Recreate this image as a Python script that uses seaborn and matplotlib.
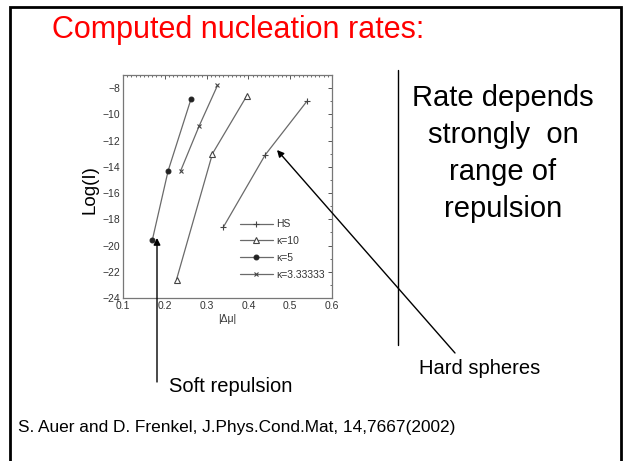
import numpy as np
import pandas as pd
import matplotlib
matplotlib.use("Agg")
import matplotlib.pyplot as plt
import seaborn as sns
from matplotlib.ticker import MultipleLocator

# ---- data ----
series_names = ["HS", "κ=10", "κ=5", "κ=3.33333"]
hs_x = [0.34, 0.44, 0.54]
hs_y = [-18.6, -13.1, -9.0]
k10_x = [0.228, 0.314, 0.396]
k10_y = [-22.6, -13.0, -8.6]
k5_x = [0.170, 0.208, 0.263]
k5_y = [-19.6, -14.3, -8.8]
k33_x = [0.238, 0.282, 0.326]
k33_y = [-14.3, -10.9, -7.8]
x_ticks = [0.1, 0.2, 0.3, 0.4, 0.5, 0.6]
y_ticks = [-24, -22, -20, -18, -16, -14, -12, -10, -8]

sns.set_theme(style="white")
plt.rcParams["font.family"] = ["Liberation Sans", "DejaVu Sans"]
plt.rcParams["axes.unicode_minus"] = True

fig = plt.figure(figsize=(6.23, 4.61), dpi=100)
fig.patch.set_facecolor("white")

# slide frame (bottom edge lies outside the picture)
fig.add_artist(plt.Rectangle((10 / 623, -10 / 461), 611 / 623, (461 + 10 - 7) / 461,
                             transform=fig.transFigure, fill=False,
                             edgecolor="black", linewidth=2))

ax = fig.add_axes([123 / 623, 1 - 298 / 461, 209 / 623, 223 / 461])

df = pd.concat([
    pd.DataFrame({"x": hs_x, "y": hs_y, "series": series_names[0]}),
    pd.DataFrame({"x": k10_x, "y": k10_y, "series": series_names[1]}),
    pd.DataFrame({"x": k5_x, "y": k5_y, "series": series_names[2]}),
    pd.DataFrame({"x": k33_x, "y": k33_y, "series": series_names[3]}),
], ignore_index=True)

markers = {"HS": "+", "κ=10": "^", "κ=5": "o", "κ=3.33333": "x"}
msizes = {"HS": 5, "κ=10": 4.5, "κ=5": 3.5, "κ=3.33333": 3.5}
line_col = "#6a6a6a"
for name in series_names:
    sub = df[df["series"] == name]
    mk = markers[name]
    kw = dict(marker=mk, markersize=msizes[name], color=line_col, linewidth=0.9,
              sort=False, label=name, ax=ax, estimator=None)
    if mk == "^":
        kw.update(markerfacecolor="white", markeredgecolor="#444444", markeredgewidth=0.8)
    elif mk == "o":
        kw.update(markerfacecolor="#222222", markeredgecolor="#222222")
    else:
        kw.update(markeredgecolor="#444444", markeredgewidth=0.8)
    sns.lineplot(data=sub, x="x", y="y", **kw)

ax.set_xlim(0.1, 0.6)
ax.set_ylim(-24, -7)
ax.set_xticks(x_ticks)
ax.set_yticks(y_ticks)
ax.set_xticklabels([f"{v:g}" for v in x_ticks])
ax.set_yticklabels([f"\u2212{abs(v)}" for v in y_ticks])
ax.xaxis.set_minor_locator(MultipleLocator(0.01))
ax.yaxis.set_minor_locator(MultipleLocator(1))
ax.tick_params(axis="both", which="major", direction="in", length=3, width=0.7,
               labelsize=7.5, colors="#555555", labelcolor="#333333",
               top=True, right=True, pad=2)
ax.tick_params(axis="both", which="minor", direction="in", length=1.5, width=0.6,
               colors="#555555", top=True, right=True)
for s in ax.spines.values():
    s.set_color("#777777")
    s.set_linewidth(0.9)
ax.set_xlabel("|\u0394\u03bc|", fontsize=7.5, color="#333333", labelpad=2)
ax.set_ylabel("")
fig.text(90 / 623, 1 - 190 / 461, "Log(I)", rotation=90, fontsize=13.5,
         ha="center", va="center", color="black")

leg = ax.legend(loc="lower right", bbox_to_anchor=(1.0, 0.05), frameon=False,
                fontsize=7.5, handlelength=3.2, handletextpad=0.3,
                labelspacing=0.65, borderaxespad=0.3)
for t in leg.get_texts():
    t.set_color("#333333")

# slide texts
fig.text(52 / 623, 1 - 30 / 461, "Computed nucleation rates:", color="#ff0000",
         fontsize=22, ha="left", va="center")
right_lines = ["Rate depends", "strongly  on", "range of", "repulsion"]
for i, line in enumerate(right_lines):
    fig.text(503 / 623, 1 - (98 + 37 * i) / 461, line, fontsize=21,
             ha="center", va="center", color="black")
fig.text(18 / 623, 1 - 427 / 461,
         "S. Auer and D. Frenkel, J.Phys.Cond.Mat, 14,7667(2002)",
         fontsize=12.4, ha="left", va="center", color="black")
fig.text(480 / 623, 1 - 368 / 461, "Hard spheres", fontsize=14.5,
         ha="center", va="center", color="black")
fig.text(231 / 623, 1 - 387 / 461, "Soft repulsion", fontsize=14.5,
         ha="center", va="center", color="black")

# divider line
fig.add_artist(plt.Line2D([398 / 623, 398 / 623], [1 - 70 / 461, 1 - 345 / 461],
                          transform=fig.transFigure, color="black", linewidth=1))

# arrows
ax_ann = fig.add_axes([0, 0, 1, 1], facecolor="none")
ax_ann.set_xlim(0, 623)
ax_ann.set_ylim(461, 0)
ax_ann.axis("off")
ax_ann.annotate("", xy=(277, 150), xytext=(455, 353),
                arrowprops=dict(arrowstyle="-|>", color="black", lw=1,
                                mutation_scale=10, shrinkA=0, shrinkB=0))
ax_ann.annotate("", xy=(157, 238), xytext=(157, 382),
                arrowprops=dict(arrowstyle="-|>", color="black", lw=1,
                                mutation_scale=10, shrinkA=0, shrinkB=0))

fig.savefig("out.png", dpi=100, facecolor="white")
